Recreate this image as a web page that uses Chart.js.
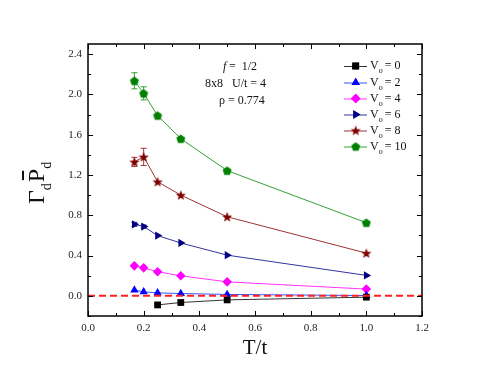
<!DOCTYPE html>
<html><head><meta charset="utf-8">
<script src="https://cdn.jsdelivr.net/npm/chart.js@4.4.1/dist/chart.umd.min.js"></script>
<style>html,body{margin:0;padding:0;background:#fff;}#wrap{width:491px;height:379px;}</style>
</head><body><div id="wrap"><canvas id="c" width="491" height="379"></canvas></div>
<script>
// ---- data ----
const T = [1/6, 0.2, 0.25, 1/3, 0.5, 1.0];
const v0_0  = [null, null, -0.090, -0.066, -0.040, -0.013];
const v0_2  = [0.057, 0.040, 0.030, 0.023, 0.014, 0.003];
const v0_4  = [0.298, 0.278, 0.239, 0.199, 0.139, 0.067];
const v0_6  = [0.710, 0.688, 0.598, 0.525, 0.404, 0.203];
const v0_8  = [1.330, 1.380, 1.133, 1.000, 0.785, 0.424];
const v0_10 = [2.135, 2.010, 1.790, 1.560, 1.243, 0.726];
const err_6  = [0.02, 0.015, 0, 0, 0, 0];
const err_8  = [0.045, 0.085, 0, 0, 0, 0];
const err_10 = [0.08, 0.065, 0, 0, 0, 0];
const seriesLabels = ["0", "2", "4", "6", "8", "10"];
const xTicks = [0.0, 0.2, 0.4, 0.6, 0.8, 1.0, 1.2];
const yTicks = [0.0, 0.4, 0.8, 1.2, 1.6, 2.0, 2.4];

const FONT = "'Liberation Serif','Times New Roman',serif";

function shapeCanvas(kind, color) {
  const c = document.createElement('canvas');
  c.width = 14; c.height = 14;
  const g = c.getContext('2d');
  g.fillStyle = color;
  g.beginPath();
  if (kind === 'star') {
    for (let i = 0; i < 10; i++) {
      const r = i % 2 === 0 ? 5.4 : 2.3;
      const a = -Math.PI / 2 + i * Math.PI / 5;
      const px = 7 + r * Math.cos(a), py = 7.5 + r * Math.sin(a);
      i === 0 ? g.moveTo(px, py) : g.lineTo(px, py);
    }
  } else {
    for (let i = 0; i < 5; i++) {
      const r = 4.7;
      const a = -Math.PI / 2 + i * 2 * Math.PI / 5;
      const px = 7 + r * Math.cos(a), py = 7.4 + r * Math.sin(a);
      i === 0 ? g.moveTo(px, py) : g.lineTo(px, py);
    }
  }
  g.closePath(); g.fill();
  return c;
}
const starImg = shapeCanvas('star', '#800000');
const pentImg = shapeCanvas('pent', '#008000');

const styles = [
  {color:'#000000', line:'#333333', ps:'rect', r:4.8, rot:0},
  {color:'#0000ff', line:'#3355ff', ps:'triangle', r:4.8, rot:0},
  {color:'#ff00ff', line:'#ff33ff', ps:'rectRot', r:4.8, rot:0},
  {color:'#000080', line:'#3333a0', ps:'triangle', r:4.8, rot:90},
  {color:'#800000', line:'#a03333', ps:starImg, r:5, rot:0},
  {color:'#008000', line:'#33a033', ps:pentImg, r:5, rot:0}
];
const allSeries = [v0_0, v0_2, v0_4, v0_6, v0_8, v0_10];
const allErr = [null, null, null, err_6, err_8, err_10];

const datasets = [{
  label: 'zero',
  data: [{x: 0, y: 0}, {x: 1.2, y: 0}],
  borderColor: '#ff2020', borderWidth: 2, borderDash: [7, 4],
  pointRadius: 0, showLine: true, fill: false
}];
allSeries.forEach((s, i) => {
  const st = styles[i];
  datasets.push({
    label: 'V0 = ' + seriesLabels[i],
    data: T.map((t, k) => s[k] === null ? null : {x: t, y: s[k]}).filter(p => p),
    borderColor: st.line, backgroundColor: st.color,
    pointBackgroundColor: st.color, pointBorderColor: st.color,
    borderWidth: 1, pointStyle: st.ps, pointRadius: st.r, pointRotation: st.rot,
    pointBorderWidth: 0, showLine: true, fill: false, tension: 0
  });
});

function drawPointAt(ctx, st, x, y) {
  ctx.save();
  ctx.fillStyle = st.color; ctx.strokeStyle = st.color;
  if (st.ps instanceof HTMLCanvasElement) {
    ctx.drawImage(st.ps, x - 7, y - 7);
  } else {
    Chart.helpers.drawPoint(ctx, {pointStyle: st.ps, radius: st.r, rotation: st.rot, borderWidth: 0}, x, y);
    ctx.fill();
  }
  ctx.restore();
}

const decor = {
  id: 'decor',
  beforeDatasetsDraw(chart) {
    const ctx = chart.ctx, xs = chart.scales.x, ys = chart.scales.y;
    ctx.save();
    ctx.lineWidth = 1;
    allErr.forEach((e, i) => {
      if (!e) return;
      ctx.strokeStyle = styles[i].line;
      T.forEach((t, k) => {
        if (!e[k]) return;
        const px = xs.getPixelForValue(t);
        const y1 = ys.getPixelForValue(allSeries[i][k] + e[k]);
        const y2 = ys.getPixelForValue(allSeries[i][k] - e[k]);
        ctx.beginPath();
        ctx.moveTo(px, y1); ctx.lineTo(px, y2);
        ctx.moveTo(px - 3, y1); ctx.lineTo(px + 3, y1);
        ctx.moveTo(px - 3, y2); ctx.lineTo(px + 3, y2);
        ctx.stroke();
      });
    });
    ctx.restore();
  },
  afterDraw(chart) {
    const ctx = chart.ctx, a = chart.chartArea;
    const xs = chart.scales.x, ys = chart.scales.y;
    ctx.save();
    // frame
    ctx.strokeStyle = '#000'; ctx.lineWidth = 1.5;
    ctx.strokeRect(a.left, a.top, a.right - a.left, a.bottom - a.top);
    // ticks
    ctx.lineWidth = 1;
    ctx.beginPath();
    for (let v = 0; v <= 1.2001; v += 0.1) {
      const px = Math.round(xs.getPixelForValue(v)) + 0.5;
      const major = Math.abs(Math.round(v * 10) % 2) === 0;
      const L = major ? 5 : 3;
      ctx.moveTo(px, a.bottom); ctx.lineTo(px, a.bottom - L);
      ctx.moveTo(px, a.top); ctx.lineTo(px, a.top + L);
    }
    for (let k = -1; k <= 12; k++) {
      const v = k * 0.2;
      const py = Math.round(ys.getPixelForValue(v)) + 0.5;
      const major = k % 2 === 0;
      const L = major ? 5 : 3;
      ctx.moveTo(a.left, py); ctx.lineTo(a.left + L, py);
      ctx.moveTo(a.right, py); ctx.lineTo(a.right - L, py);
    }
    ctx.stroke();

    ctx.fillStyle = '#111';
    // x title
    ctx.font = '21px ' + FONT;
    ctx.textAlign = 'center'; ctx.textBaseline = 'middle';
    ctx.fillText('T/t', (a.left + a.right) / 2, 348);

    // y title: Γ_d P̄_d rotated
    ctx.save();
    ctx.translate(36, 183);
    ctx.rotate(-Math.PI / 2);
    ctx.textAlign = 'left'; ctx.textBaseline = 'alphabetic';
    let x = -21;
    ctx.font = '24px ' + FONT;
    ctx.fillText('Γ', x, 8); x += ctx.measureText('Γ').width;
    ctx.font = '14px ' + FONT;
    ctx.fillText('d', x, 15); x += ctx.measureText('d').width + 1;
    ctx.font = '24px ' + FONT;
    const pw = ctx.measureText('P').width;
    ctx.fillText('P', x, 8);
    ctx.fillRect(x + 2, -14, pw - 4, 2);
    x += pw;
    ctx.font = '14px ' + FONT;
    ctx.fillText('d', x, 15);
    ctx.restore();

    // annotation
    ctx.textAlign = 'left'; ctx.textBaseline = 'middle';
    ctx.font = 'italic 12px ' + FONT;
    ctx.fillText('f', 223, 67);
    ctx.font = '12px ' + FONT;
    ctx.fillText('=  1/2', 229, 67);
    ctx.fillText('8x8   U/t = 4', 205, 84);
    ctx.fillText('ρ = 0.774', 219, 101);

    // legend
    const ly = [66, 82.5, 98.5, 114.5, 130.5, 146.5];
    styles.forEach((st, i) => {
      const y = ly[i];
      ctx.strokeStyle = st.line; ctx.lineWidth = 1;
      ctx.beginPath(); ctx.moveTo(344, y + 0.5); ctx.lineTo(367, y + 0.5); ctx.stroke();
      drawPointAt(ctx, st, 355.7, y);
      ctx.fillStyle = '#111';
      ctx.font = '12px ' + FONT;
      ctx.textAlign = 'left'; ctx.textBaseline = 'middle';
      ctx.fillText('V', 370, y);
      const vw = ctx.measureText('V').width;
      ctx.font = '8px ' + FONT;
      ctx.fillText('o', 370 + vw, y + 5);
      ctx.font = '12px ' + FONT;
      ctx.fillText('= ' + seriesLabels[i], 370 + vw + 6, y);
    });
    ctx.restore();
  }
};

new Chart(document.getElementById('c'), {
  type: 'line',
  data: {datasets},
  options: {
    responsive: false, animation: false, devicePixelRatio: 1,
    layout: {padding: {left: 0, top: 44, right: 69, bottom: 0}},
    plugins: {legend: {display: false}, tooltip: {enabled: false}},
    scales: {
      x: {
        type: 'linear', min: 0, max: 1.2,
        afterBuildTicks: s => { s.ticks = xTicks.map(v => ({value: v})); },
        afterFit: s => { s.height = 63; },
        grid: {display: false, drawTicks: false}, border: {display: false},
        ticks: {padding: 6, color: '#222', font: {family: FONT, size: 11},
          callback: v => Number(v).toFixed(1), maxRotation: 0, autoSkip: false}
      },
      y: {
        type: 'linear', min: -0.2, max: 2.5,
        afterBuildTicks: s => { s.ticks = yTicks.map(v => ({value: v})); },
        afterFit: s => { s.width = 88; },
        grid: {display: false, drawTicks: false}, border: {display: false},
        ticks: {padding: 6, color: '#222', font: {family: FONT, size: 11},
          callback: v => Number(v).toFixed(1), autoSkip: false}
      }
    }
  },
  plugins: [decor]
});
</script>
</body></html>
